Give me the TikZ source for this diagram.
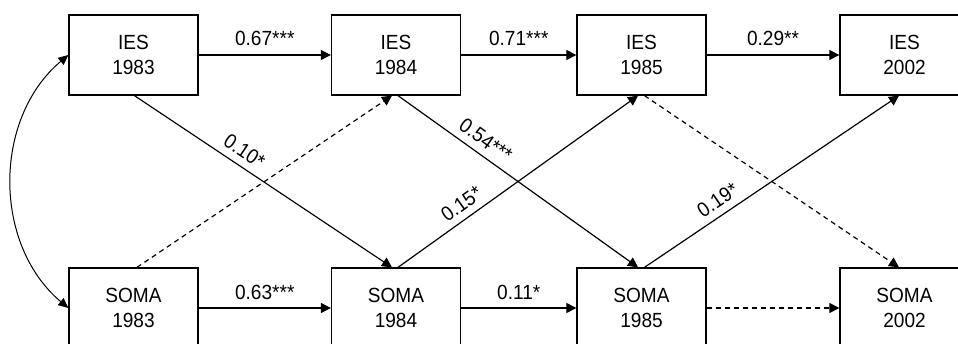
\documentclass[tikz,border=0pt]{standalone}
\usepackage{fontspec}
\setmainfont{Liberation Sans}[FakeStretch=0.93]
\usetikzlibrary{arrows.meta}
\begin{document}
\begin{tikzpicture}[x=1pt,y=-1pt,
 box/.style={draw,line width=1.3pt,minimum width=129pt,minimum height=80pt,inner sep=0pt,align=center,font=\fontsize{20.5}{25}\selectfont},
 arr/.style={line width=1.2pt,-{Triangle[length=10pt,width=10pt]}},
 dsh/.style={arr,dash pattern=on 5pt off 4pt},
 lbl/.style={font=\fontsize{20.5}{23}\selectfont,inner sep=0pt},
 dlbl/.style={lbl,sloped,above=7pt}]
\useasboundingbox (0,0) rectangle (958,344);
\clip (0,0) rectangle (958,344);
\node[box] (i83) at (133.5,55) {IES\\1983};
\node[box] (i84) at (396,55) {IES\\1984};
\node[box] (i85) at (641.5,55) {IES\\1985};
\node[box] (i02) at (904.5,55) {IES\\2002};
\node[box] (s83) at (133.5,308) {SOMA\\1983};
\node[box] (s84) at (396,308) {SOMA\\1984};
\node[box] (s85) at (641.5,308) {SOMA\\1985};
\node[box] (s02) at (904.5,308) {SOMA\\2002};
% horizontal paths
\draw[arr] (i83) -- node[lbl,above=9pt]{0.67***} (i84);
\draw[arr] (i84) -- node[lbl,above=9pt]{0.71***} (i85);
\draw[arr] (i85) -- node[lbl,above=9pt]{0.29**} (i02);
\draw[arr] (s83) -- node[lbl,above=8pt]{0.63***} (s84);
\draw[arr] (s84) -- node[lbl,above=8pt]{0.11*} (s85);
\draw[dsh] (s85) -- (s02);
% cross paths
\draw[arr] ([xshift=1pt]i83.south) -- node[dlbl,pos=0.395]{0.10*} ([xshift=-4pt]s84.north);
\draw[arr] ([xshift=2pt]i84.south) -- node[dlbl,pos=0.33]{0.54***} ([xshift=-3.5pt]s85.north);
\draw[arr] ([xshift=2pt]s84.north) -- node[dlbl,pos=0.30]{0.15*} ([xshift=-3.5pt]i85.south);
\draw[arr] ([xshift=3pt]s85.north) -- node[dlbl,pos=0.32]{0.19*} ([xshift=-5.5pt]i02.south);
\draw[dsh] ([xshift=3.5pt]s83.north) -- ([xshift=-4pt]i84.south);
\draw[dsh] ([xshift=3pt]i85.south) -- ([xshift=-5.5pt]s02.north);
% correlation
\draw[line width=1pt,{Triangle[length=10pt,width=9pt]}-{Triangle[length=10pt,width=9pt]}] (i83.west) to[bend right=50] (s83.west);
\end{tikzpicture}
\end{document}
